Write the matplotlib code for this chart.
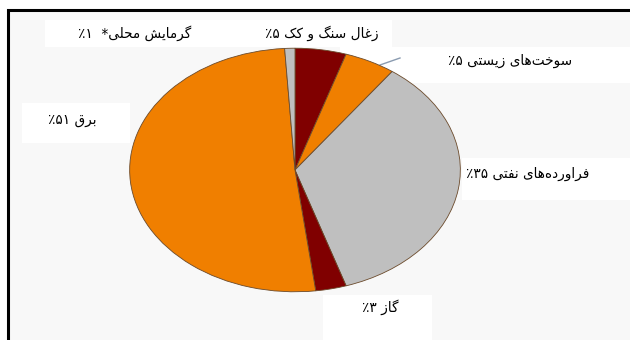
import matplotlib
matplotlib.use("Agg")
import matplotlib.pyplot as plt
from matplotlib.patches import Rectangle

# energy use by source (percent)
names = ["زغال سنگ و کک", "سوخت‌های زیستی", "فراورده‌های نفتی", "گاز", "برق", "گرمایش محلی*"]
shares = [5, 5, 35, 3, 51, 1]
colors = ["#800000", "#F07F00", "#BFBFBF", "#800000", "#F07F00", "#BFBFBF"]

# presentation forms: isolated, final, initial, medial
FORMS = {
    "ا": ("\uFE8D", "\uFE8E"),
    "د": ("\uFEA9", "\uFEAA"),
    "ر": ("\uFEAD", "\uFEAE"),
    "ز": ("\uFEAF", "\uFEB0"),
    "و": ("\uFEED", "\uFEEE"),
    "ب": ("\uFE8F", "\uFE90", "\uFE91", "\uFE92"),
    "ت": ("\uFE95", "\uFE96", "\uFE97", "\uFE98"),
    "ح": ("\uFEA1", "\uFEA2", "\uFEA3", "\uFEA4"),
    "خ": ("\uFEA5", "\uFEA6", "\uFEA7", "\uFEA8"),
    "س": ("\uFEB1", "\uFEB2", "\uFEB3", "\uFEB4"),
    "ش": ("\uFEB5", "\uFEB6", "\uFEB7", "\uFEB8"),
    "غ": ("\uFECD", "\uFECE", "\uFECF", "\uFED0"),
    "ف": ("\uFED1", "\uFED2", "\uFED3", "\uFED4"),
    "ق": ("\uFED5", "\uFED6", "\uFED7", "\uFED8"),
    "ل": ("\uFEDD", "\uFEDE", "\uFEDF", "\uFEE0"),
    "م": ("\uFEE1", "\uFEE2", "\uFEE3", "\uFEE4"),
    "ن": ("\uFEE5", "\uFEE6", "\uFEE7", "\uFEE8"),
    "ه": ("\uFEE9", "\uFEEA", "\uFEEB", "\uFEEC"),
    "ک": ("\uFB8E", "\uFB8F", "\uFB90", "\uFB91"),
    "گ": ("\uFB92", "\uFB93", "\uFB94", "\uFB95"),
    "ی": ("\uFBFC", "\uFBFD", "\uFBFE", "\uFBFF"),
}


def joins_left(c):
    return c in FORMS and len(FORMS[c]) == 4


def rtl(text):
    # shape letters and flip to visual order
    out = []
    for i, c in enumerate(text):
        if c == "\u200c":
            continue
        if c not in FORMS:
            out.append(c)
            continue
        prev = text[i - 1] if i > 0 else ""
        nxt = text[i + 1] if i + 1 < len(text) else ""
        a = joins_left(prev)
        b = joins_left(c) and nxt in FORMS
        f = FORMS[c]
        if a and b:
            out.append(f[3])
        elif a:
            out.append(f[1])
        elif b:
            out.append(f[2])
        else:
            out.append(f[0])
    return "".join(reversed(out))


def fa_num(v):
    return str(v).translate(str.maketrans("0123456789", "۰۱۲۳۴۵۶۷۸۹"))


W, H = 630, 340
fig = plt.figure(figsize=(W / 100, H / 100), dpi=100)
fig.patch.set_facecolor("white")

bg = fig.add_axes([0, 0, 1, 1])
bg.set_xlim(0, W)
bg.set_ylim(H, 0)
bg.axis("off")

# outer frame, right and bottom run off the image
bg.add_patch(Rectangle((8, 10), 640, 350, facecolor="#F8F8F8", edgecolor="black", lw=2.2))

# white label panels
for x0, y0, x1, y1 in [(45, 20, 392, 47), (340, 47, 630, 83), (22, 103, 130, 143),
                       (462, 158, 630, 200), (323, 295, 432, 345)]:
    bg.add_patch(Rectangle((x0, y0), x1 - x0, y1 - y0, facecolor="white", edgecolor="none"))

label_pos = [(322, 33), (510, 61), (528, 174), (380, 307), (72, 120), (135, 33)]
for name, v, (x, y) in zip(names, shares, label_pos):
    txt = "٪" + fa_num(v) + " " + rtl(name)
    bg.text(x, y, txt.replace(" *", "  *"), ha="center", va="center",
            fontsize=9.8, color="black", family="DejaVu Sans")

# pie squashed into an ellipse
pie_ax = fig.add_axes([128 / W, 1 - 293 / H, 334 / W, 246 / H])
pie_ax.pie(shares, colors=colors, startangle=90, counterclock=False,
           wedgeprops=dict(edgecolor="#6B4A2B", linewidth=0.6))
pie_ax.set_aspect("auto")
pie_ax.set_xlim(-1.01, 1.01)
pie_ax.set_ylim(-1.01, 1.01)
pie_ax.axis("off")

# leader line for biofuels
bg.plot([380, 400], [65, 58], color="#8A9BB0", lw=1)

fig.savefig("out.png", dpi=100)
